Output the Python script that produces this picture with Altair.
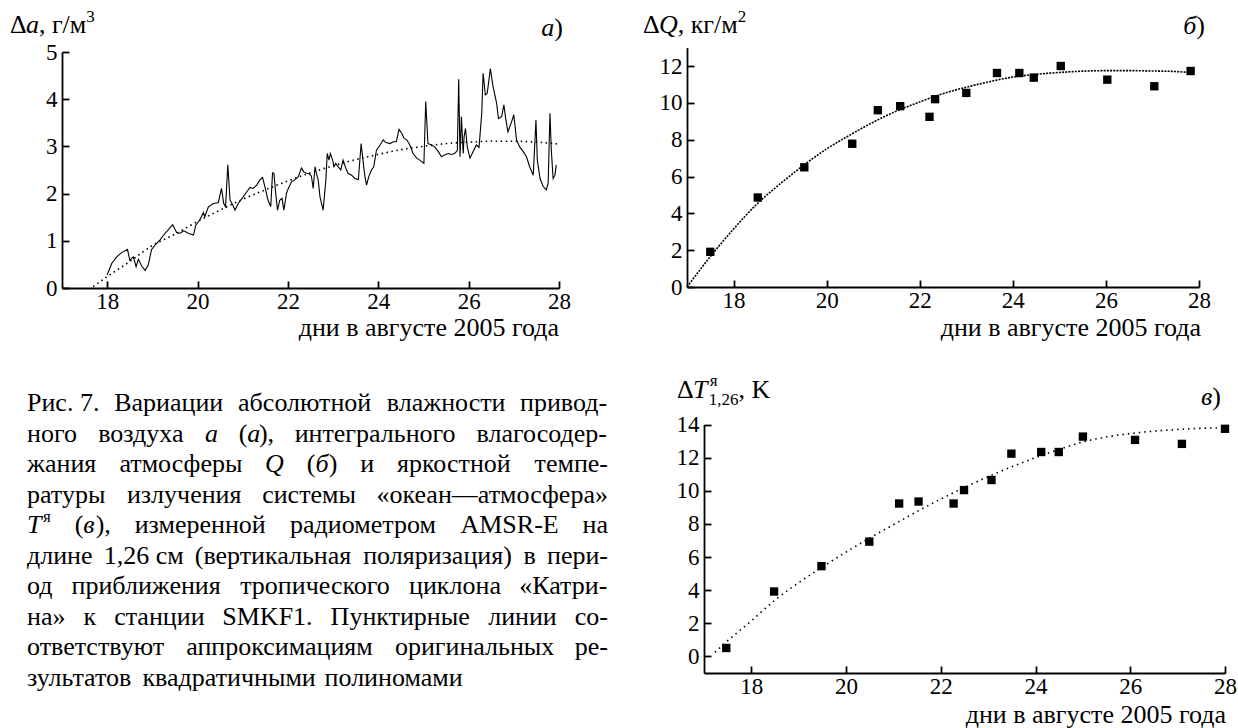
import altair as alt
import pandas as pd

FONT = "Liberation Serif"
F = 26       # text size
FR = 26      # size of the right-aligned axis captions
FS = 17      # superscript / subscript size
TICK_F = 23  # tick label size

# ---------------- panel а: absolute humidity difference ----------------
a_day = [18.00, 18.10, 18.21, 18.32, 18.45, 18.50, 18.58, 18.64, 18.69, 18.76, 18.84, 18.91, 18.98,
         19.06, 19.17, 19.28, 19.35, 19.45, 19.54, 19.61, 19.70, 19.79, 19.91, 19.96,
         20.05, 20.13, 20.16, 20.24, 20.35, 20.46, 20.53, 20.58, 20.62, 20.67, 20.72, 20.78, 20.83, 20.90,
         21.01, 21.09, 21.16, 21.23, 21.31, 21.38, 21.44, 21.49, 21.56, 21.62, 21.66, 21.69, 21.73, 21.77,
         21.82, 21.87, 21.91, 21.97,
         22.01, 22.08, 22.15, 22.23, 22.30, 22.35, 22.41, 22.47, 22.52, 22.56, 22.60, 22.63, 22.67, 22.71,
         22.78, 22.84, 22.87, 22.91, 22.94, 22.99,
         23.02, 23.06, 23.11, 23.17, 23.22, 23.28, 23.33, 23.41, 23.48, 23.56, 23.62, 23.67, 23.70, 23.74,
         23.79, 23.85, 23.90, 23.96,
         24.04, 24.11, 24.17, 24.26, 24.33, 24.40, 24.46, 24.52, 24.57, 24.63, 24.70, 24.77, 24.85, 24.92,
         25.01, 25.05, 25.10, 25.18, 25.25, 25.33, 25.40, 25.47, 25.55, 25.62, 25.69, 25.75, 25.78, 25.81,
         25.84, 25.88, 25.90, 25.93, 25.97,
         26.03, 26.10, 26.17, 26.23, 26.29, 26.32, 26.37, 26.41, 26.45, 26.48, 26.54, 26.62, 26.66, 26.73,
         26.78, 26.82, 26.87, 26.95,
         27.00, 27.06, 27.13, 27.21, 27.28, 27.35, 27.43, 27.49, 27.52, 27.58, 27.65, 27.72, 27.76, 27.80,
         27.83, 27.87, 27.91, 27.94]
a_val = [0.28, 0.52, 0.66, 0.75, 0.82, 0.59, 0.66, 0.45, 0.61, 0.47, 0.37, 0.49, 0.81,
         0.91, 1.02, 1.16, 1.23, 1.34, 1.17, 1.16, 1.21, 1.16, 1.12, 1.33,
         1.44, 1.60, 1.51, 1.72, 1.79, 1.81, 2.11, 1.79, 1.72, 2.61, 1.86, 1.76, 1.65, 1.79,
         1.93, 2.04, 2.13, 2.11, 2.18, 2.29, 2.34, 2.15, 1.86, 1.72, 2.44, 2.43, 2.01, 1.65,
         1.86, 1.90, 1.65, 2.01,
         2.11, 2.25, 2.29, 2.36, 2.54, 2.46, 2.43, 2.42, 2.37, 2.11, 2.57, 2.43, 2.29, 1.93,
         1.65, 2.29, 2.85, 2.71, 2.85, 2.71,
         2.57, 2.64, 2.57, 2.50, 2.71, 2.54, 2.43, 2.39, 2.32, 2.30, 3.06, 2.64, 2.39, 2.18,
         2.36, 2.50, 2.57, 2.92,
         3.03, 3.14, 3.08, 3.06, 3.10, 3.10, 3.36, 3.28, 3.17, 3.14, 3.03, 2.85, 2.75, 2.71,
         2.64, 3.95, 3.06, 3.03, 2.99, 2.89, 2.78, 2.82, 2.85, 2.83, 2.85, 2.91, 4.42, 2.78,
         3.63, 2.85, 3.21, 3.38, 2.99,
         2.75, 2.89, 3.03, 2.98, 3.70, 4.55, 4.09, 4.12, 4.41, 4.65, 4.27, 3.91, 3.59, 3.63,
         3.88, 3.59, 3.31, 3.52,
         3.67, 3.14, 2.99, 2.89, 2.78, 2.57, 2.39, 3.56, 2.71, 2.32, 2.15, 2.08, 2.22, 3.70,
         2.92, 2.32, 2.39, 2.61]
afit_day = [17.69, 18.0, 18.5, 19.0, 19.5, 20.0, 20.5, 21.0, 21.5, 22.0, 22.5, 23.0, 23.5, 24.0,
            24.5, 25.0, 25.5, 26.0, 26.5, 27.0, 27.5, 28.0]
afit_val = [0.03, 0.24, 0.56, 0.90, 1.14, 1.41, 1.65, 1.88, 2.08, 2.27, 2.44, 2.59, 2.72, 2.83,
            2.93, 3.00, 3.06, 3.09, 3.11, 3.11, 3.09, 3.05]

# ---------------- panel б: integral water vapour ----------------
q_day = [17.50, 18.52, 19.52, 20.55, 21.10, 21.58, 22.21, 22.33, 23.00, 23.66, 24.14, 24.45,
         25.03, 26.03, 27.04, 27.82]
q_val = [1.91, 4.86, 6.50, 7.78, 9.60, 9.82, 9.24, 10.20, 10.54, 11.62, 11.62, 11.37,
         12.00, 11.26, 10.90, 11.73]
qfit_day = [17.0, 17.5, 18.0, 18.5, 19.0, 19.5, 20.0, 20.5, 21.0, 21.5, 22.0, 22.5, 23.0, 23.5,
            24.0, 24.5, 25.0, 25.5, 26.0, 26.5, 27.0, 27.5, 27.8]
qfit_val = [0.0, 1.65, 3.15, 4.50, 5.60, 6.60, 7.50, 8.25, 8.95, 9.55, 10.05, 10.50, 10.85, 11.15,
            11.40, 11.55, 11.65, 11.72, 11.75, 11.75, 11.73, 11.70, 11.65]

# ---------------- panel в: brightness temperature ----------------
t_day = [17.47, 18.48, 19.48, 20.49, 21.12, 21.53, 22.27, 22.49, 23.07, 23.49, 24.12, 24.49,
         25.00, 26.10, 27.09, 28.00]
t_val = [0.51, 3.92, 5.45, 6.93, 9.23, 9.35, 9.23, 10.04, 10.65, 12.24, 12.34, 12.34,
         13.27, 13.07, 12.83, 13.74]
tfit_day = [17.23, 17.5, 18.0, 18.5, 19.0, 19.5, 20.0, 20.5, 21.0, 21.5, 22.0, 22.5, 23.0, 23.5,
            24.0, 24.5, 25.0, 25.5, 26.0, 26.5, 27.0, 27.5, 28.0]
tfit_val = [0.25, 0.95, 2.15, 3.40, 4.45, 5.40, 6.30, 7.15, 7.95, 8.75, 9.50, 10.20, 10.85, 11.45,
            12.00, 12.50, 12.95, 13.25, 13.45, 13.60, 13.70, 13.77, 13.80]

x_ticks = [18, 20, 22, 24, 26, 28]
a_ticks = [0, 1, 2, 3, 4, 5]
q_ticks = [0, 2, 4, 6, 8, 10, 12]
t_ticks = [0, 2, 4, 6, 8, 10, 12, 14]

x_label = "дни в августе 2005 года"
caption_lines = [
    "Рис.~7. Вариации абсолютной влажности привод-",
    "ного воздуха *a* (*а*), интегрального влагосодер-",
    "жания атмосферы *Q* (*б*) и яркостной темпе-",
    "ратуры излучения системы «океан—атмосфера»",
    "*T*^я^ (*в*), измеренной радиометром AMSR-E на",
    "длине 1,26~см (вертикальная поляризация) в пери-",
    "од приближения тропического циклона «Катри-",
    "на» к станции SMKF1. Пунктирные линии со-",
    "ответствуют аппроксимациям оригинальных ре-",
    "зультатов квадратичными полиномами",
]

# ---------------- approximate glyph widths (per 1000 em) for text layout ----------------
W = {' ': 250, '.': 250, ',': 250, '(': 333, ')': 333, '-': 333, '«': 500, '»': 500, '—': 1000,
     '/': 278, 'Δ': 612,
     'а': 444, 'б': 508, 'в': 472, 'г': 410, 'д': 509, 'е': 444, 'ж': 691, 'з': 395, 'и': 535,
     'й': 535, 'к': 486, 'л': 499, 'м': 633, 'н': 535, 'о': 500, 'п': 535, 'р': 500, 'с': 444,
     'т': 437, 'у': 500, 'ф': 648, 'х': 500, 'ц': 535, 'ч': 503, 'ш': 770, 'щ': 770, 'ъ': 517,
     'ы': 672, 'ь': 456, 'э': 429, 'ю': 747, 'я': 467,
     'Р': 556, 'В': 667, 'П': 722, 'К': 667, 'A': 722, 'M': 889, 'S': 556, 'R': 667, 'E': 611,
     'K': 722, 'F': 556, 'T': 611, 'Q': 722, 'a': 500}


def seg_w(text, style, size=None):
    if size is None:
        size = FS if style in ('s', 'b') else F
    return sum(W.get(c, 500) for c in text) / 1000 * size


def parse(word):
    segs, style, buf = [], 'n', ''
    for ch in word:
        if ch in '*^':
            if buf:
                segs.append((buf, style))
                buf = ''
            target = 'i' if ch == '*' else 's'
            style = 'n' if style == target else target
        else:
            buf += ' ' if ch == '~' else ch
    if buf:
        segs.append((buf, style))
    return segs


rows = []    # left aligned text pieces
rows_r = []  # right aligned text pieces


def put(x, y, segs):
    for t, s in segs:
        dy = -11 if s == 's' else (7 if s == 'b' else 0)
        rows.append(dict(x=x, y=y + dy, t=t, s=s))
        x += seg_w(t, s)
    return x


# caption, justified (last line ragged)
L, R = 27, 608
base0, step = 411, 30.5
for i, line in enumerate(caption_lines):
    words = [parse(w) for w in line.split(' ')]
    widths = [sum(seg_w(t, s) for t, s in w) for w in words]
    y = base0 + i * step
    if i < len(caption_lines) - 1:
        gap = (R - L - sum(widths)) / (len(words) - 1)
    else:
        gap = W[' '] / 1000 * F * 1.2
    x = L
    for w, wd in zip(words, widths):
        put(x, y, w)
        x += wd + gap

# axis titles
put(10, 33, [("Δ", 'n'), ("a", 'i'), (", г/м", 'n'), ("3", 's')])
put(643, 33, [("Δ", 'n'), ("Q", 'i'), (", кг/м", 'n'), ("2", 's')])
xT = put(677, 398, [("Δ", 'n'), ("T", 'i')])
put(xT + 1, 397, [("я", 's')])
xe = put(xT, 398, [("1,26", 'b')])
put(xe, 398, [(", K", 'n')])

# right-aligned labels
for xr, yb in [(559, 336), (1201, 336), (1226, 723)]:
    rows_r.append(dict(x=xr, y=yb, t=x_label, s='n'))
for xr, yb, letter in [(563, 36, "а"), (1205, 34, "б"), (1221, 405, "в")]:
    rows_r.append(dict(x=xr, y=yb, t=")", s='n'))
    rows_r.append(dict(x=xr - seg_w(")", 'n', FR), y=yb, t=letter, s='i'))

tdf = pd.DataFrame(rows)
rdf = pd.DataFrame(rows_r)


def text_layer(df, style, align, size):
    sub = df[df.s.isin(style)]
    return alt.Chart(sub).mark_text(
        font=FONT, fontSize=size, fontStyle='italic' if style == ['i'] else 'normal',
        align=align, baseline='alphabetic', color='black'
    ).encode(
        x=alt.X('x:Q', scale=None, axis=None),
        y=alt.Y('y:Q', scale=None, axis=None),
        text='t:N',
    )


text_layers = [
    text_layer(tdf, ['n'], 'left', F),
    text_layer(tdf, ['i'], 'left', F),
    text_layer(tdf, ['s', 'b'], 'left', FS),
    text_layer(rdf, ['n'], 'right', FR),
    text_layer(rdf, ['i'], 'right', FR),
]


# ---------------- axes ----------------
def axis(orient, values, offset):
    common = dict(values=values, orient=orient, offset=offset, title=None, grid=False,
                  tickSize=alt.ExprRef(expr="-7"), labelFont=FONT, labelFontSize=TICK_F,
                  labelColor='black', domainColor='black', tickColor='black',
                  domainWidth=1.8, tickWidth=1.8, labelFlush=False, labelOverlap=False,
                  format='d')
    if orient == 'bottom':
        common.update(labelPadding=9)
    else:
        common.update(labelPadding=12, labelBaseline='middle')
    return alt.Axis(**common)


def panel(line_df, fit_df, xr, yr, ydom, yvals, dash, fit_w, kind):
    X = alt.X('d:Q', scale=alt.Scale(domain=[17, 28], range=xr, nice=False, zero=False),
              axis=axis('bottom', x_ticks, -(728 - yr[0])))
    Y = alt.Y('v:Q', scale=alt.Scale(domain=ydom, range=yr, nice=False, zero=False),
              axis=axis('left', yvals, -xr[0]))
    fit = alt.Chart(fit_df).mark_line(
        color='black', strokeWidth=fit_w, strokeDash=dash, interpolate='monotone'
    ).encode(x=X, y=Y)
    if kind == 'line':
        main = alt.Chart(line_df).mark_line(color='black', strokeWidth=1.1).encode(x=X, y=Y)
        return alt.layer(main, fit)
    main = alt.Chart(line_df).mark_square(color='black', opacity=1, size=70).encode(x=X, y=Y)
    return alt.layer(fit, main)


panel_a = panel(pd.DataFrame({'d': a_day, 'v': a_val}),
                pd.DataFrame({'d': afit_day, 'v': afit_val}),
                [62, 559], [288, 52], [0, 5], a_ticks, [1.5, 3.5], 1.6, 'line')
panel_b = panel(pd.DataFrame({'d': q_day, 'v': q_val}),
                pd.DataFrame({'d': qfit_day, 'v': qfit_val}),
                [687, 1199], [287, 47.6], [0, 13], q_ticks, [2, 1.2], 1.6, 'pts')
panel_c = panel(pd.DataFrame({'d': t_day, 'v': t_val}),
                pd.DataFrame({'d': tfit_day, 'v': tfit_val}),
                [704, 1225], [673, 424.5], [-1, 14], t_ticks, [1.5, 4], 1.6, 'pts')

chart = alt.layer(panel_a, panel_b, panel_c, *text_layers).resolve_scale(
    x='independent', y='independent'
).properties(
    width=1238, height=728, padding=0,
    autosize=alt.AutoSizeParams(type='none'), background='white'
).configure_view(stroke=None)

chart.save("out.html", embed_options={"renderer": "svg", "actions": False})
